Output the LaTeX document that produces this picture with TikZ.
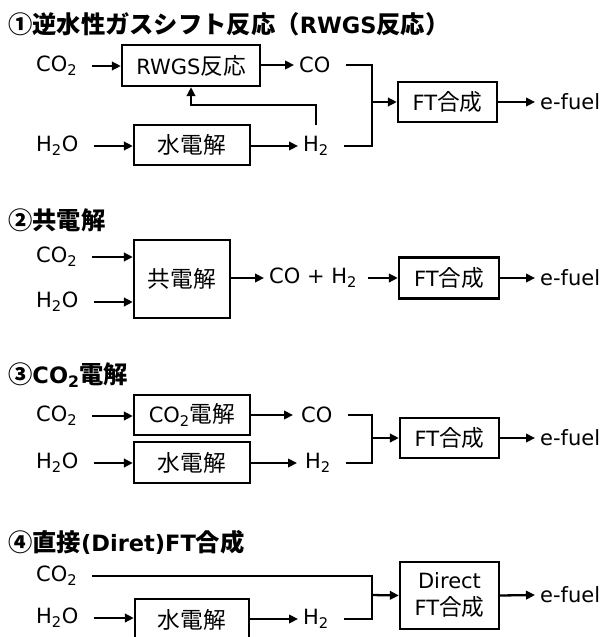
\documentclass[tikz,border=0pt]{standalone}
\usepackage{fontspec}
\setmainfont{DejaVu Sans}
\newfontfamily\jp[Scale=1.08]{Noto Sans CJK JP}
\usetikzlibrary{arrows.meta,positioning,calc}

\newcommand{\cotwo}{CO\textsubscript{2}}
\newcommand{\htwo}{H\textsubscript{2}}
\newcommand{\htwoo}{H\textsubscript{2}O}

\tikzset{
  box/.style={draw, line width=2.3pt, inner sep=0pt, align=center},
  lbl/.style={anchor=west, inner xsep=5pt, inner ysep=0pt},
  ttl/.style={anchor=west, inner sep=0pt, font=\fontsize{22.5}{26}\selectfont\bfseries},
  pipe/.style={line width=2.3pt},
  flow/.style={pipe, -{Triangle[length=9pt,width=8.5pt]}},
  gap/.style={shorten <=10pt},
}

\begin{document}
\begin{tikzpicture}[x=1pt, y=-1pt, font=\fontsize{21}{25}\selectfont]
  \useasboundingbox (0,0) rectangle (602,637);

  % (1) RWGS
  \node[ttl] (a-ttl) at (8,24) {\jp ①逆水性ガスシフト反応（\rmfamily RWGS\jp 反応）};
  \node[lbl] (a-co2) at (31,66) {\cotwo};
  \node[box, minimum width=138, minimum height=41] (a-rwgs) at (191,65.5) {RWGS{\jp 反応}};
  \node[lbl] (a-co) at (294,65) {CO};
  \node[lbl] (a-h2o) at (31,146) {\htwoo};
  \node[box, minimum width=116, minimum height=40] (a-ely) at (192,145) {\jp 水電解};
  \node[lbl] (a-h2) at (298,146) {\htwo};
  \node[box, minimum width=99, minimum height=40] (a-ft) at (447.5,102) {FT{\jp 合成}};
  \node[lbl] (a-fuel) at (535,102) {e-fuel};
  \coordinate (a-j) at (372,102);
  \coordinate (a-fb) at (316,125);

  \draw[flow,gap] (a-co2.east) -- (a-co2.east -| a-rwgs.west);
  \draw[flow] (a-rwgs.east |- a-co) -- (a-co.west);
  \draw[flow,gap] (a-h2o.east) -- (a-h2o.east -| a-ely.west);
  \draw[flow] (a-ely.east |- a-h2) -- (a-h2.west);
  \draw[pipe,gap] (a-co.east) -| (a-j);
  \draw[pipe,gap] (a-h2.east) -| (a-j);
  \draw[flow] (a-j) -- (a-ft.west);
  \draw[flow] (a-ft.east) -- (a-fuel.west);
  \draw[flow] (a-fb) -- ++(0,-20) -| (a-rwgs.south);

  % (2) co-electrolysis
  \node[ttl] (b-ttl) at (8,220) {\jp ②共電解};
  \node[lbl] (b-co2) at (31,257) {\cotwo};
  \node[lbl] (b-h2o) at (31,302) {\htwoo};
  \node[box, minimum width=96, minimum height=78] (b-box) at (182,279) {\jp 共電解};
  \node[lbl] (b-coh) at (264,278) {CO + \htwo};
  \node[box, minimum width=100, minimum height=41] (b-ft) at (449,278) {FT{\jp 合成}};
  \node[lbl] (b-fuel) at (535,278) {e-fuel};

  \draw[flow,gap] (b-co2.east) -- (b-co2.east -| b-box.west);
  \draw[flow,gap] (b-h2o.east) -- (b-h2o.east -| b-box.west);
  \draw[flow] (b-box.east |- b-coh) -- (b-coh.west);
  \draw[flow,shorten <=6pt] (b-coh.east) -- (b-ft.west);
  \draw[flow] (b-ft.east) -- (b-fuel.west);

  % (3) CO2 electrolysis
  \node[ttl] (c-ttl) at (8,375) {\jp ③\rmfamily CO\textsubscript{2}\jp 電解};
  \node[lbl] (c-co2) at (31,416) {\cotwo};
  \node[lbl] (c-h2o) at (31,463) {\htwoo};
  \node[box, minimum width=116, minimum height=40] (c-cel) at (192,415) {\cotwo{\jp 電解}};
  \node[lbl] (c-co) at (296,415) {CO};
  \node[box, minimum width=116, minimum height=41] (c-ely) at (192,462.5) {\jp 水電解};
  \node[lbl] (c-h2) at (300,463) {\htwo};
  \node[box, minimum width=99, minimum height=40] (c-ft) at (449.5,438) {FT{\jp 合成}};
  \node[lbl] (c-fuel) at (535,438) {e-fuel};
  \coordinate (c-j) at (372,438);

  \draw[flow,gap] (c-co2.east) -- (c-co2.east -| c-cel.west);
  \draw[flow,shorten >=3pt] (c-cel.east |- c-co) -- (c-co.west);
  \draw[flow,gap] (c-h2o.east) -- (c-h2o.east -| c-ely.west);
  \draw[flow,shorten >=3pt] (c-ely.east |- c-h2) -- (c-h2.west);
  \draw[pipe,gap] (c-co.east) -| (c-j);
  \draw[pipe,gap] (c-h2.east) -| (c-j);
  \draw[flow] (c-j) -- (c-ft.west);
  \draw[flow] (c-ft.east) -- (c-fuel.west);

  % (4) direct FT
  \node[ttl] (d-ttl) at (8,542) {\jp ④直接\rmfamily (Diret)FT\jp 合成};
  \node[lbl] (d-co2) at (31,576) {\cotwo};
  \node[lbl] (d-h2o) at (31,618) {\htwoo};
  \node[box, minimum width=114, minimum height=42] (d-ely) at (192,620) {\jp 水電解};
  \node[lbl] (d-h2) at (298,619) {\htwo};
  \node[box, minimum width=99, minimum height=67, font=\fontsize{21}{27}\selectfont] (d-ft) at (449.5,595.5) {Direct\\FT{\jp 合成}};
  \node[lbl] (d-fuel) at (535,595) {e-fuel};
  \coordinate (d-j) at (372,595);

  \draw[pipe,gap] (d-co2.east) -| (d-j);
  \draw[flow,gap] (d-h2o.east) -- (d-h2o.east -| d-ely.west);
  \draw[flow] (d-ely.east |- d-h2) -- (d-h2.west);
  \draw[pipe,gap] (d-h2.east) -| (d-j);
  \draw[flow] (d-j) -- (d-ft.west);
  \draw[flow] (d-ft.east) -- (d-fuel.west);
\end{tikzpicture}
\end{document}
